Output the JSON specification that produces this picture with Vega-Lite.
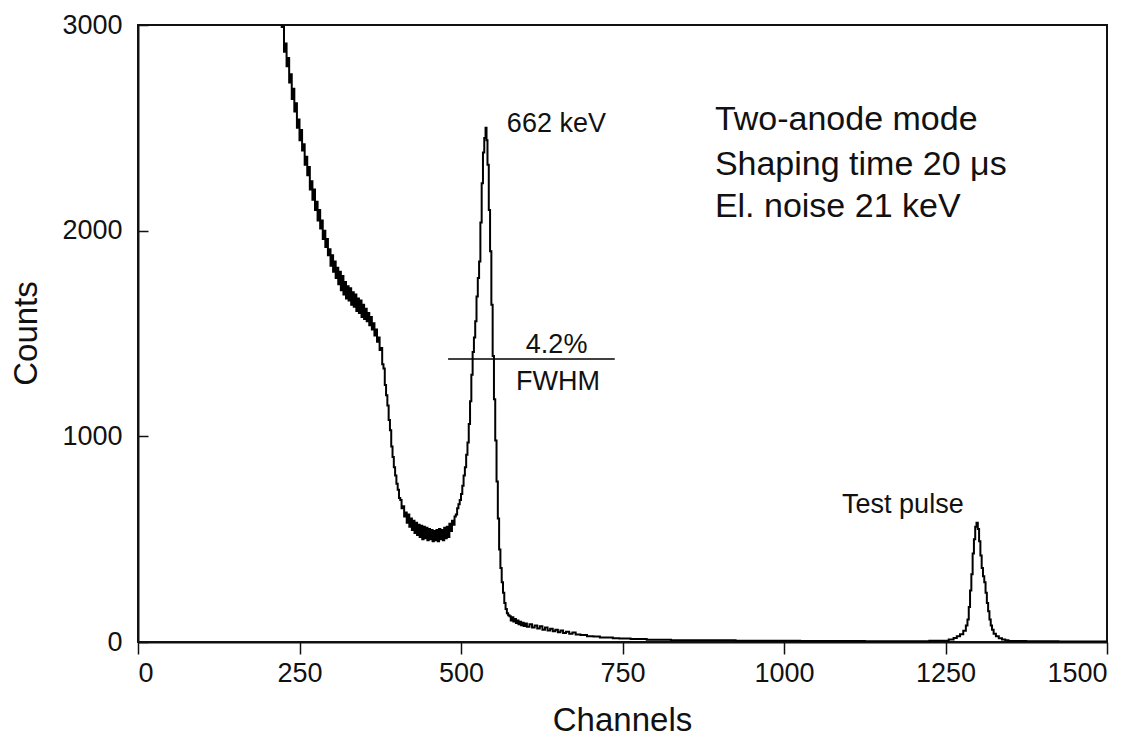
{
  "$schema": "https://vega.github.io/schema/vega-lite/v6.json",
  "width": 969,
  "height": 617,
  "autosize": {"type": "none"},
  "padding": {"left": 138, "top": 25, "right": 34, "bottom": 98},
  "background": "white",
  "config": {
    "view": {"stroke": "#111", "strokeWidth": 2},
    "font": "Liberation Sans"
  },
  "datasets": {
    "spectrum": [
      {"channel": 220, "counts": 3300}, {"channel": 225, "counts": 2990}, {"channel": 227, "counts": 2870},
      {"channel": 229, "counts": 2910}, {"channel": 231, "counts": 2800}, {"channel": 233, "counts": 2840},
      {"channel": 235, "counts": 2720}, {"channel": 237, "counts": 2760}, {"channel": 239, "counts": 2640},
      {"channel": 241, "counts": 2690}, {"channel": 243, "counts": 2580}, {"channel": 245, "counts": 2620},
      {"channel": 247, "counts": 2500}, {"channel": 249, "counts": 2540}, {"channel": 251, "counts": 2440},
      {"channel": 253, "counts": 2490}, {"channel": 255, "counts": 2390}, {"channel": 257, "counts": 2420},
      {"channel": 259, "counts": 2320}, {"channel": 261, "counts": 2360}, {"channel": 263, "counts": 2270},
      {"channel": 265, "counts": 2310}, {"channel": 267, "counts": 2200}, {"channel": 269, "counts": 2240},
      {"channel": 271, "counts": 2150}, {"channel": 273, "counts": 2200}, {"channel": 275, "counts": 2100},
      {"channel": 277, "counts": 2140}, {"channel": 279, "counts": 2050}, {"channel": 281, "counts": 2100},
      {"channel": 283, "counts": 2010}, {"channel": 285, "counts": 2050}, {"channel": 287, "counts": 1960},
      {"channel": 289, "counts": 2000}, {"channel": 291, "counts": 1920}, {"channel": 293, "counts": 1960},
      {"channel": 295, "counts": 1880}, {"channel": 297, "counts": 1910}, {"channel": 299, "counts": 1830},
      {"channel": 301, "counts": 1880}, {"channel": 303, "counts": 1800}, {"channel": 305, "counts": 1850},
      {"channel": 307, "counts": 1770}, {"channel": 309, "counts": 1820}, {"channel": 311, "counts": 1740},
      {"channel": 313, "counts": 1800}, {"channel": 315, "counts": 1710}, {"channel": 317, "counts": 1780},
      {"channel": 319, "counts": 1690}, {"channel": 321, "counts": 1750}, {"channel": 323, "counts": 1670},
      {"channel": 325, "counts": 1730}, {"channel": 327, "counts": 1660}, {"channel": 329, "counts": 1720},
      {"channel": 331, "counts": 1640}, {"channel": 333, "counts": 1700}, {"channel": 335, "counts": 1630},
      {"channel": 337, "counts": 1690}, {"channel": 339, "counts": 1610}, {"channel": 341, "counts": 1670},
      {"channel": 343, "counts": 1600}, {"channel": 345, "counts": 1660}, {"channel": 347, "counts": 1580},
      {"channel": 349, "counts": 1640}, {"channel": 351, "counts": 1570}, {"channel": 353, "counts": 1620},
      {"channel": 355, "counts": 1560}, {"channel": 357, "counts": 1600}, {"channel": 359, "counts": 1540},
      {"channel": 361, "counts": 1580}, {"channel": 363, "counts": 1520}, {"channel": 365, "counts": 1550},
      {"channel": 367, "counts": 1490}, {"channel": 369, "counts": 1520}, {"channel": 371, "counts": 1460},
      {"channel": 373, "counts": 1480}, {"channel": 375, "counts": 1420}, {"channel": 377, "counts": 1430},
      {"channel": 379, "counts": 1350}, {"channel": 381, "counts": 1330}, {"channel": 383, "counts": 1250},
      {"channel": 385, "counts": 1200}, {"channel": 387, "counts": 1150}, {"channel": 389, "counts": 1080},
      {"channel": 391, "counts": 1030}, {"channel": 393, "counts": 950}, {"channel": 395, "counts": 900},
      {"channel": 397, "counts": 850}, {"channel": 399, "counts": 810}, {"channel": 401, "counts": 770},
      {"channel": 403, "counts": 740}, {"channel": 405, "counts": 700}, {"channel": 407, "counts": 690},
      {"channel": 409, "counts": 650}, {"channel": 411, "counts": 660}, {"channel": 413, "counts": 610},
      {"channel": 415, "counts": 630}, {"channel": 417, "counts": 580}, {"channel": 419, "counts": 620},
      {"channel": 421, "counts": 560}, {"channel": 423, "counts": 600}, {"channel": 425, "counts": 545},
      {"channel": 427, "counts": 590}, {"channel": 429, "counts": 530}, {"channel": 431, "counts": 580},
      {"channel": 433, "counts": 520}, {"channel": 435, "counts": 570}, {"channel": 437, "counts": 510},
      {"channel": 439, "counts": 565}, {"channel": 441, "counts": 500}, {"channel": 443, "counts": 560},
      {"channel": 445, "counts": 505}, {"channel": 447, "counts": 555}, {"channel": 449, "counts": 495},
      {"channel": 451, "counts": 550}, {"channel": 453, "counts": 500}, {"channel": 455, "counts": 545},
      {"channel": 457, "counts": 490}, {"channel": 459, "counts": 540}, {"channel": 461, "counts": 495},
      {"channel": 463, "counts": 545}, {"channel": 465, "counts": 490}, {"channel": 467, "counts": 550},
      {"channel": 469, "counts": 500}, {"channel": 471, "counts": 545}, {"channel": 473, "counts": 495},
      {"channel": 475, "counts": 555}, {"channel": 477, "counts": 505}, {"channel": 479, "counts": 560},
      {"channel": 481, "counts": 510}, {"channel": 483, "counts": 575}, {"channel": 485, "counts": 540},
      {"channel": 487, "counts": 590}, {"channel": 489, "counts": 570}, {"channel": 491, "counts": 610},
      {"channel": 493, "counts": 620}, {"channel": 495, "counts": 650}, {"channel": 497, "counts": 670},
      {"channel": 499, "counts": 690}, {"channel": 501, "counts": 720}, {"channel": 503, "counts": 760},
      {"channel": 505, "counts": 810}, {"channel": 507, "counts": 850}, {"channel": 509, "counts": 910},
      {"channel": 511, "counts": 970}, {"channel": 513, "counts": 1060}, {"channel": 515, "counts": 1170},
      {"channel": 517, "counts": 1300}, {"channel": 519, "counts": 1410}, {"channel": 521, "counts": 1480},
      {"channel": 523, "counts": 1560}, {"channel": 525, "counts": 1680}, {"channel": 527, "counts": 1770},
      {"channel": 529, "counts": 1850}, {"channel": 531, "counts": 2040}, {"channel": 533, "counts": 2230},
      {"channel": 535, "counts": 2380}, {"channel": 537, "counts": 2450}, {"channel": 539, "counts": 2500},
      {"channel": 540, "counts": 2440}, {"channel": 542, "counts": 2320}, {"channel": 544, "counts": 2100},
      {"channel": 546, "counts": 1900}, {"channel": 548, "counts": 1640}, {"channel": 550, "counts": 1390},
      {"channel": 552, "counts": 1180}, {"channel": 554, "counts": 980}, {"channel": 556, "counts": 780},
      {"channel": 558, "counts": 600}, {"channel": 560, "counts": 450}, {"channel": 562, "counts": 360},
      {"channel": 564, "counts": 290}, {"channel": 566, "counts": 240}, {"channel": 568, "counts": 190},
      {"channel": 570, "counts": 160}, {"channel": 572, "counts": 140}, {"channel": 574, "counts": 130},
      {"channel": 576, "counts": 125}, {"channel": 578, "counts": 105}, {"channel": 580, "counts": 120},
      {"channel": 582, "counts": 100}, {"channel": 584, "counts": 112}, {"channel": 586, "counts": 92},
      {"channel": 588, "counts": 105}, {"channel": 590, "counts": 86}, {"channel": 592, "counts": 98},
      {"channel": 594, "counts": 82}, {"channel": 596, "counts": 94}, {"channel": 598, "counts": 78},
      {"channel": 600, "counts": 90}, {"channel": 604, "counts": 74}, {"channel": 608, "counts": 86},
      {"channel": 612, "counts": 70}, {"channel": 616, "counts": 80}, {"channel": 620, "counts": 66},
      {"channel": 624, "counts": 76}, {"channel": 628, "counts": 60}, {"channel": 632, "counts": 70},
      {"channel": 636, "counts": 56}, {"channel": 640, "counts": 64}, {"channel": 644, "counts": 52},
      {"channel": 648, "counts": 60}, {"channel": 652, "counts": 48}, {"channel": 656, "counts": 56},
      {"channel": 660, "counts": 44}, {"channel": 665, "counts": 50}, {"channel": 670, "counts": 40},
      {"channel": 675, "counts": 46}, {"channel": 680, "counts": 36}, {"channel": 690, "counts": 34},
      {"channel": 700, "counts": 28}, {"channel": 710, "counts": 27}, {"channel": 720, "counts": 22},
      {"channel": 730, "counts": 22}, {"channel": 740, "counts": 18}, {"channel": 750, "counts": 17},
      {"channel": 775, "counts": 14}, {"channel": 800, "counts": 11}, {"channel": 850, "counts": 9},
      {"channel": 900, "counts": 8}, {"channel": 950, "counts": 6}, {"channel": 1000, "counts": 6},
      {"channel": 1050, "counts": 5}, {"channel": 1100, "counts": 5}, {"channel": 1150, "counts": 4},
      {"channel": 1200, "counts": 4}, {"channel": 1250, "counts": 6}, {"channel": 1260, "counts": 12},
      {"channel": 1265, "counts": 20}, {"channel": 1270, "counts": 28}, {"channel": 1275, "counts": 38},
      {"channel": 1280, "counts": 55}, {"channel": 1283, "counts": 80}, {"channel": 1285, "counts": 110},
      {"channel": 1287, "counts": 170}, {"channel": 1289, "counts": 250}, {"channel": 1291, "counts": 330},
      {"channel": 1293, "counts": 430}, {"channel": 1295, "counts": 500}, {"channel": 1297, "counts": 560},
      {"channel": 1299, "counts": 580}, {"channel": 1301, "counts": 550}, {"channel": 1303, "counts": 490},
      {"channel": 1305, "counts": 420}, {"channel": 1307, "counts": 360}, {"channel": 1309, "counts": 320},
      {"channel": 1311, "counts": 290}, {"channel": 1313, "counts": 240}, {"channel": 1315, "counts": 190},
      {"channel": 1317, "counts": 150}, {"channel": 1319, "counts": 110}, {"channel": 1321, "counts": 80},
      {"channel": 1323, "counts": 60}, {"channel": 1326, "counts": 40}, {"channel": 1330, "counts": 28},
      {"channel": 1335, "counts": 18}, {"channel": 1340, "counts": 12}, {"channel": 1345, "counts": 8},
      {"channel": 1350, "counts": 5}, {"channel": 1400, "counts": 4}, {"channel": 1450, "counts": 3},
      {"channel": 1500, "counts": 3}
    ]
  },
  "layer": [
    {
      "data": {"name": "spectrum"},
      "mark": {"type": "line", "interpolate": "step", "color": "#000", "strokeWidth": 2, "clip": true},
      "encoding": {
        "x": {
          "field": "channel", "type": "quantitative",
          "scale": {"domain": [0, 1500], "nice": false},
          "axis": {
            "title": "Channels", "values": [0, 250, 500, 750, 1000, 1250, 1500], "format": "d",
            "grid": false, "domainColor": "#111", "domainWidth": 2,
            "tickColor": "#111", "tickWidth": 1.5, "tickSize": 12,
            "labelFontSize": 27, "labelColor": "#111", "labelPadding": 6,
            "labelFont": "Liberation Sans",
            "titleFontSize": 33, "titleFontWeight": "normal", "titleColor": "#111",
            "titleFont": "Liberation Sans", "titleX": 484, "titleY": 78, "titleBaseline": "middle"
          }
        },
        "y": {
          "field": "counts", "type": "quantitative",
          "scale": {"domain": [0, 3000], "nice": false},
          "axis": {
            "title": "Counts", "values": [0, 1000, 2000, 3000], "format": "d",
            "grid": false, "domainColor": "#111", "domainWidth": 2,
            "tickColor": "#111", "tickWidth": 1.5, "tickSize": -10,
            "labelFontSize": 27, "labelColor": "#111", "labelPadding": 26,
            "labelFont": "Liberation Sans",
            "titleFontSize": 33, "titleFontWeight": "normal", "titleColor": "#111",
            "titleFont": "Liberation Sans", "titleX": -112, "titleY": 308, "titleBaseline": "middle"
          }
        }
      }
    },
    {
      "data": {"values": [{"x0": 480, "x1": 738, "y": 1376}]},
      "mark": {"type": "rule", "color": "#000", "strokeWidth": 1.5},
      "encoding": {
        "x": {"field": "x0", "type": "quantitative"},
        "x2": {"field": "x1"},
        "y": {"field": "y", "type": "quantitative"}
      }
    },
    {
      "data": {"values": [
        {"x": 571, "y": 2479, "label": "662 keV"}
      ]},
      "mark": {"type": "text", "align": "left", "baseline": "alphabetic", "fontSize": 27, "font": "Liberation Sans", "color": "#111"},
      "encoding": {
        "x": {"field": "x", "type": "quantitative"},
        "y": {"field": "y", "type": "quantitative"},
        "text": {"field": "label"}
      }
    },
    {
      "data": {"values": [
        {"x": 648, "y": 1405, "label": "4.2%"},
        {"x": 650, "y": 1225, "label": "FWHM"},
        {"x": 1184, "y": 627, "label": "Test pulse"}
      ]},
      "mark": {"type": "text", "align": "center", "baseline": "alphabetic", "fontSize": 27, "font": "Liberation Sans", "color": "#111"},
      "encoding": {
        "x": {"field": "x", "type": "quantitative"},
        "y": {"field": "y", "type": "quantitative"},
        "text": {"field": "label"}
      }
    },
    {
      "data": {"values": [
        {"x": 893, "y": 2489, "label": "Two-anode mode"},
        {"x": 893, "y": 2270, "label": "Shaping time 20 μs"},
        {"x": 893, "y": 2068, "label": "El. noise 21 keV"}
      ]},
      "mark": {"type": "text", "align": "left", "baseline": "alphabetic", "fontSize": 34, "font": "Liberation Sans", "color": "#111"},
      "encoding": {
        "x": {"field": "x", "type": "quantitative"},
        "y": {"field": "y", "type": "quantitative"},
        "text": {"field": "label"}
      }
    }
  ]
}
